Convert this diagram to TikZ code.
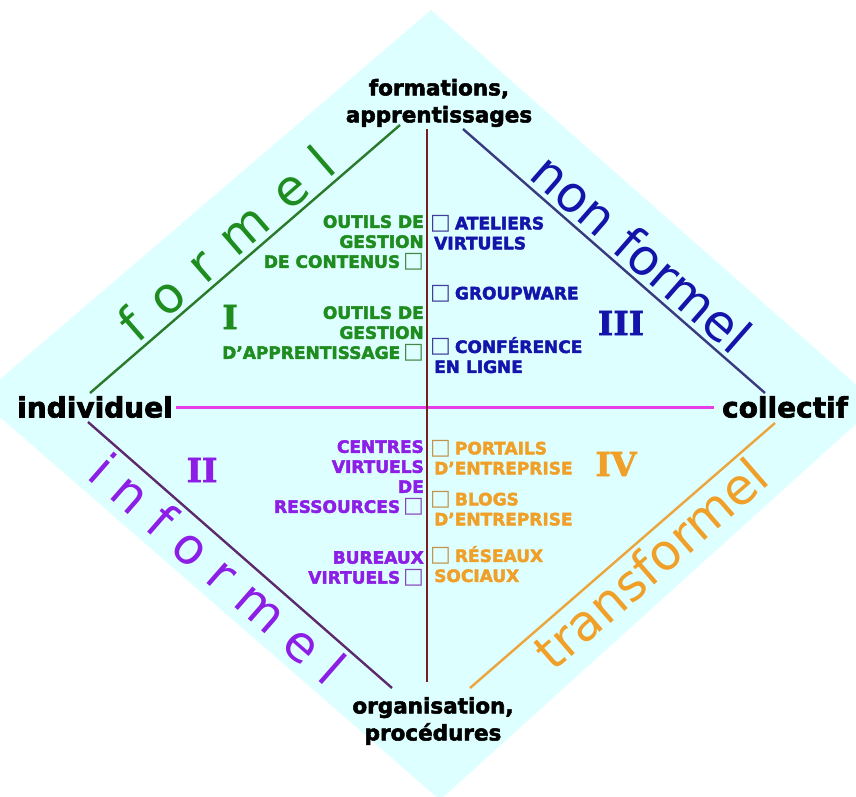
\documentclass[tikz,border=0pt]{standalone}
\usepackage{fontspec}
\setmainfont{DejaVu Sans}[BoldFeatures={FakeBold=2.5}]
\newfontfamily\romfont{DejaVu Serif}[BoldFeatures={FakeBold=2}]
\usepackage{tikz}
\definecolor{qcyan}{HTML}{DDFFFF}
\definecolor{qgreen}{HTML}{1E8C1E}
\definecolor{qgreenln}{HTML}{2A7A2A}
\definecolor{qblue}{HTML}{1414AA}
\definecolor{qblueln}{HTML}{3A3A80}
\definecolor{qpurple}{HTML}{8C1EE6}
\definecolor{qpurpleln}{HTML}{5E2A6E}
\definecolor{qorange}{HTML}{F0A028}
\definecolor{qorangeln}{HTML}{EBA53C}
\definecolor{qmagenta}{HTML}{E63CE6}
\definecolor{qbrown}{HTML}{781E1E}
\newcommand\tickbox{{\mdseries\fontsize{22}{20}\selectfont\color{.!60!gray}□}}

\begin{document}
\begin{tikzpicture}[x=1pt,y=-1pt,
  pole/.style={font=\bfseries\fontsize{21.5}{27}\selectfont,align=center,inner sep=2pt},
  axe/.style={font=\bfseries\fontsize{28}{28}\selectfont,inner sep=3pt},
  quad/.style={font=\bfseries\fontsize{17}{20}\selectfont,inner sep=0pt},
  numeral/.style={font=\romfont\bfseries\fontsize{33}{33}\selectfont,inner sep=0pt},
  zone/.style={font=\fontsize{50}{50}\selectfont,sloped,inner sep=4pt},
  sep/.style={line width=2.4pt}]
\clip (0,0) rectangle (856,796);
\fill[qcyan] (431,10) -- (878,404) -- (440,800) -- (-22,398) -- cycle;

\node[pole] (forma) at (439,103) {formations,\\apprentissages};
\node[pole] (orga) at (433,721) {organisation,\\procédures};
\node[axe] (indiv) at (95,407) {individuel};
\node[axe] (coll) at (785,407) {collectif};
\coordinate (mid) at (427,409);

\draw[sep,qmagenta,line width=3pt,shorten >=5pt] (indiv.east) -- (coll.west);
\draw[sep,qbrown,shorten >=13pt] (forma.south -| mid) -- (orga.north -| mid);

% ends of the four slanted lines
\coordinate (fo1) at (90,393);   \coordinate (fo2) at (400,125);
\coordinate (nf1) at (463,129);  \coordinate (nf2) at (765,393);
\coordinate (in1) at (88,422);   \coordinate (in2) at (392,688);
\coordinate (tr1) at (470,688);  \coordinate (tr2) at (775,423);

\draw[sep,qgreenln] (fo1) -- node[zone,above,qgreen,pos=0.49] {\spaceskip=0.42em\relax f o r m e l} (fo2);
\draw[sep,qblueln] (nf1) -- node[zone,above,qblue,pos=0.54] {non formel} (nf2);
\draw[sep,qpurpleln] (in1) -- node[zone,below,qpurple,pos=0.48] {i n f o r m e l} (in2);
\draw[sep,qorangeln] (tr1) -- node[zone,below,qorange,pos=0.54] {transformel} (tr2);

\node[numeral,qgreen] (q1) at (230,317) {I};
\node[numeral,qpurple] (q2) at (202,470) {II};
\node[numeral,qblue] (q3) at (621,323) {III};
\node[numeral,qorange] (q4) at (616,464) {IV};

\node[quad,qgreen,align=right,anchor=north east] (cms) at (424,215) {OUTILS DE\hspace{4pt}\\GESTION\hspace{4pt}\\DE CONTENUS\,\tickbox};
\node[quad,qgreen,align=right,anchor=north east] (lms) at (424,306) {OUTILS DE\hspace{4pt}\\GESTION\hspace{4pt}\\D’APPRENTISSAGE\,\tickbox};
\node[quad,qblue,align=left,anchor=north west] (atel) at (430,215) {\tickbox\hspace{4pt}ATELIERS\\\hspace{4pt}VIRTUELS};
\node[quad,qblue,align=left,anchor=north west] (grp) at (430,285) {\tickbox\hspace{4pt}GROUPWARE};
\node[quad,qblue,align=left,anchor=north west] (conf) at (430,337) {\tickbox\hspace{4pt}CONFÉRENCE\\\hspace{4pt}EN LIGNE};
\node[quad,qpurple,align=right,anchor=north east] (crv) at (424,440) {CENTRES\hspace{4pt}\\VIRTUELS\hspace{4pt}\\DE\hspace{4pt}\\RESSOURCES\,\tickbox};
\node[quad,qpurple,align=right,anchor=north east] (bur) at (424,551) {BUREAUX\hspace{4pt}\\VIRTUELS\,\tickbox};
\node[quad,qorange,align=left,anchor=north west] (port) at (430,440) {\tickbox\hspace{4pt}PORTAILS\\\hspace{4pt}D’ENTREPRISE};
\node[quad,qorange,align=left,anchor=north west] (blog) at (430,491) {\tickbox\hspace{4pt}BLOGS\\\hspace{4pt}D’ENTREPRISE};
\node[quad,qorange,align=left,anchor=north west] (res) at (430,546) {\tickbox\hspace{4pt}RÉSEAUX\\\hspace{4pt}SOCIAUX};
\end{tikzpicture}
\end{document}
